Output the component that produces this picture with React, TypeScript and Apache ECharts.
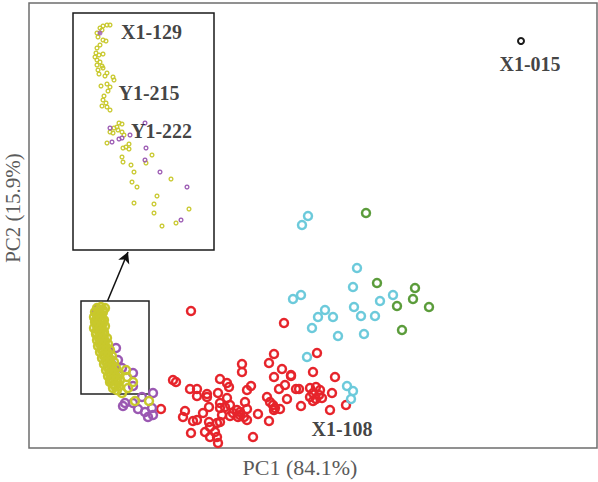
import React, { useEffect, useRef } from "react";
import * as echarts from "echarts";

// ---- Main PCA scores (PC1, PC2), arbitrary units ----
const redPoints: number[][] = [
  [162, 137], [255, 125], [245, 94], [240, 85], [288, 95], [213, 84], [213, 76], [253, 79],
  [284, 76], [245, 71], [262, 72], [262, 73], [306, 71], [144, 68], [147, 66], [191, 69],
  [198, 65], [200, 61], [222, 62], [218, 58], [250, 59], [256, 63], [267, 59], [270, 59],
  [281, 60], [287, 61], [291, 58], [284, 55], [290, 53], [281, 51], [287, 49], [293, 50],
  [284, 47], [161, 59], [168, 59], [178, 54], [178, 51], [189, 55], [198, 50], [191, 45],
  [168, 52], [238, 51], [241, 46], [244, 43], [246, 40], [258, 49], [303, 55], [272, 42],
  [251, 39], [301, 38], [317, 43], [132, 39], [156, 37], [154, 31], [164, 27], [168, 28],
  [174, 35], [180, 41], [191, 40], [193, 33], [191, 26], [188, 25], [201, 43], [204, 35],
  [211, 36], [209, 31], [215, 31], [216, 46], [218, 39], [229, 34], [240, 27], [180, 26],
  [181, 21], [162, 15], [176, 16], [181, 11], [186, 16], [188, 11], [189, 5], [224, 11],
  [196, 41], [208, 38], [201, 32], [245, 38], [211, 33], [218, 28],
];
const cyanPoints: number[][] = [
  [279, 232], [273, 223], [328, 180], [324, 161], [364, 153], [351, 147], [264, 149],
  [272, 153], [296, 138], [289, 131], [304, 131], [325, 141], [332, 132], [346, 132],
  [283, 120], [309, 112], [335, 114], [278, 91], [318, 62], [324, 57], [322, 49],
];
const greenPoints: number[][] = [
  [337, 235], [348, 165], [386, 160], [384, 149], [368, 142], [400, 141], [373, 118],
];
const blackPoints: number[][] = [[492, 407]];
const purplePoints: number[][] = [
  [68, 138], [87, 100], [89, 88], [93, 80], [104, 75], [104, 62], [124, 55], [113, 51],
  [96, 45], [104, 45], [116, 36], [124, 33], [123, 40], [94, 42], [119, 31], [109, 39],
];
const yellowPoints: number[][] = [
  [68, 140], [72, 141], [76, 140], [66, 136], [70, 135], [74, 136], [65, 131], [69, 130],
  [73, 130], [66, 126], [70, 124], [74, 125], [65, 120], [69, 118], [73, 119], [67, 114],
  [71, 112], [75, 113], [68, 108], [72, 106], [76, 107], [69, 102], [73, 100], [77, 101],
  [71, 96], [75, 94], [79, 95], [73, 90], [77, 88], [81, 89], [75, 84], [79, 82], [83, 83],
  [77, 78], [81, 76], [85, 77], [79, 72], [83, 70], [87, 72], [81, 66], [85, 64], [89, 65],
  [84, 60], [88, 58], [97, 78], [104, 66], [99, 60], [93, 55], [106, 47], [120, 47],
  [98, 71], [81, 68], [88, 70],
  [70, 138], [74, 138], [68, 133], [72, 133], [67, 128], [71, 128], [75, 128], [68, 122],
  [72, 122], [76, 122], [67, 116], [71, 116], [75, 116], [70, 110], [74, 110], [78, 110],
  [71, 104], [75, 104], [79, 104], [73, 98], [77, 98], [81, 98], [75, 92], [79, 92],
  [83, 92], [77, 86], [81, 86], [85, 86], [79, 80], [83, 80], [87, 80], [81, 74], [85, 74],
  [89, 74], [83, 68], [87, 68], [91, 68], [86, 62], [90, 62],
];
const mainLabels = [
  { name: "X1-015", value: [501, 384] },
  { name: "X1-108", value: [313, 19] },
];
// zoom box and arrow (in main data units)
const zoomBox = { x1: 52, y1: 147, x2: 120, y2: 54 };
const arrowFrom = [78.5, 147];
const arrowTo = [99, 196];

// ---- Inset (zoomed view of the yellow / purple cluster) ----
const insetYellow: number[][] = [
  [24, 217], [27, 222], [30, 224], [34, 225], [37, 225], [29, 220], [25, 213], [30, 210],
  [33, 209], [27, 205], [24, 202], [23, 197], [26, 195], [30, 196], [22, 193], [24, 190],
  [27, 188], [24, 185], [29, 184], [25, 180], [30, 182], [26, 176], [34, 177], [32, 174],
  [40, 173], [41, 170], [28, 164], [34, 166], [37, 163], [35, 159], [31, 154], [30, 150],
  [33, 147], [29, 144], [34, 143], [37, 140], [46, 127], [49, 126], [44, 123], [41, 122],
  [45, 120], [37, 118], [40, 117], [49, 118], [51, 115], [56, 106], [53, 103], [50, 102],
  [34, 107], [56, 101], [49, 93], [50, 88], [58, 85], [61, 78], [79, 95], [73, 87],
  [59, 68], [64, 63], [61, 47], [84, 54], [81, 46], [81, 37], [103, 27], [89, 24],
  [116, 41], [98, 71],
];
const insetPurple: number[][] = [
  [37, 122], [39, 108], [46, 111], [49, 112], [57, 115], [72, 127], [73, 102], [72, 90],
  [87, 78], [114, 63], [108, 30],
];
const insetPurpleFilled: number[][] = [[27, 217]];
const insetLabels = [
  { name: "X1-129", value: [78.5, 218] },
  { name: "Y1-215", value: [76, 157] },
  { name: "Y1-222", value: [88.5, 119] },
];

const axisTitles = { x: "PC1 (84.1%)", y: "PC2 (15.9%)" };

const RED = "#e6242b";
const CYAN = "#6ccadb";
const GREEN = "#5b9c3b";
const PURPLE = "#9a58b2";
const YELLOW = "#c8c82c";
const BLACK = "#1a1a1a";
const SERIF = "'Liberation Serif', 'Times New Roman', serif";

function ring(name: string, data: number[][], color: string, size: number, bw: number, inset = false) {
  return {
    type: "scatter",
    name,
    data,
    xAxisIndex: inset ? 1 : 0,
    yAxisIndex: inset ? 1 : 0,
    symbol: "circle",
    symbolSize: size,
    silent: true,
    itemStyle: { color: "rgba(255,255,255,0)", borderColor: color, borderWidth: bw, opacity: 1 },
  };
}

function labelSeries(data: { name: string; value: number[] }[], inset: boolean) {
  return {
    type: "scatter",
    data,
    xAxisIndex: inset ? 1 : 0,
    yAxisIndex: inset ? 1 : 0,
    symbolSize: 1,
    silent: true,
    itemStyle: { color: "rgba(0,0,0,0)" },
    label: {
      show: true,
      position: "inside",
      formatter: "{b}",
      fontFamily: SERIF,
      fontWeight: "bold",
      fontSize: 20,
      color: "#111111",
    },
    z: 10,
  };
}

const hiddenAxis = {
  axisLine: { show: false },
  axisTick: { show: false },
  axisLabel: { show: false },
  splitLine: { show: false },
};

export default function App() {
  const ref = useRef<HTMLDivElement>(null);
  useEffect(() => {
    if (!ref.current) return;
    const chart = echarts.init(ref.current, null, { renderer: "svg" });
    const redSeries: any = ring("red", redPoints, RED, 8, 2.5);
    redSeries.markArea = {
      silent: true,
      itemStyle: { color: "rgba(0,0,0,0)", borderColor: "#222", borderWidth: 1.5 },
      data: [[{ coord: [zoomBox.x1, zoomBox.y1] }, { coord: [zoomBox.x2, zoomBox.y2] }]],
    };
    redSeries.markLine = {
      silent: true,
      symbol: ["none", "arrow"],
      symbolSize: [9, 11],
      label: { show: false },
      lineStyle: { color: "#111", width: 1.5, type: "solid" },
      data: [[{ coord: arrowFrom }, { coord: arrowTo }]],
    };
    chart.setOption({
      animation: false,
      backgroundColor: "#ffffff",
      grid: [
        { left: 29, right: 1, top: 3, bottom: 34, show: true, borderColor: "#6e6e6e", borderWidth: 1.5, backgroundColor: "rgba(0,0,0,0)" },
        { left: 73, top: 13, width: 141, height: 237, show: true, borderColor: "#1a1a1a", borderWidth: 1.5, backgroundColor: "#ffffff", z: 5 },
      ],
      xAxis: [
        { type: "value", gridIndex: 0, min: 0, max: 568, ...hiddenAxis },
        { type: "value", gridIndex: 1, min: 0, max: 141, ...hiddenAxis },
      ],
      yAxis: [
        { type: "value", gridIndex: 0, min: 0, max: 445, ...hiddenAxis },
        { type: "value", gridIndex: 1, min: 0, max: 237, ...hiddenAxis },
      ],
      graphic: [
        {
          type: "text",
          x: 300,
          y: 467,
          style: { text: axisTitles.x, font: `22px ${SERIF}`, fill: "#5a5a5a", textAlign: "center", textVerticalAlign: "middle" },
        },
        {
          type: "text",
          x: 13,
          y: 208,
          rotation: Math.PI / 2,
          style: { text: axisTitles.y, font: `21px ${SERIF}`, fill: "#5a5a5a", textAlign: "center", textVerticalAlign: "middle" },
        },
      ],
      series: [
        redSeries,
        ring("cyan", cyanPoints, CYAN, 8, 2.5),
        ring("green", greenPoints, GREEN, 8, 2.5),
        ring("black", blackPoints, BLACK, 6, 2),
        ring("purple", purplePoints, PURPLE, 8, 2.5),
        ring("yellow", yellowPoints, YELLOW, 8, 2.5),
        labelSeries(mainLabels, false),
        { ...ring("insetYellow", insetYellow, YELLOW, 3.8, 1.3, true), z: 6 },
        { ...ring("insetPurple", insetPurple, PURPLE, 3.8, 1.3, true), z: 6 },
        {
          type: "scatter",
          data: insetPurpleFilled,
          xAxisIndex: 1,
          yAxisIndex: 1,
          symbolSize: 5,
          silent: true,
          itemStyle: { color: PURPLE },
          z: 6,
        },
        labelSeries(insetLabels, true),
      ],
    });
    return () => chart.dispose();
  }, []);
  return (
    <div
      ref={ref}
      style={{ position: "fixed", left: 0, top: 0, width: 598, height: 482, background: "#fff" }}
    />
  );
}
